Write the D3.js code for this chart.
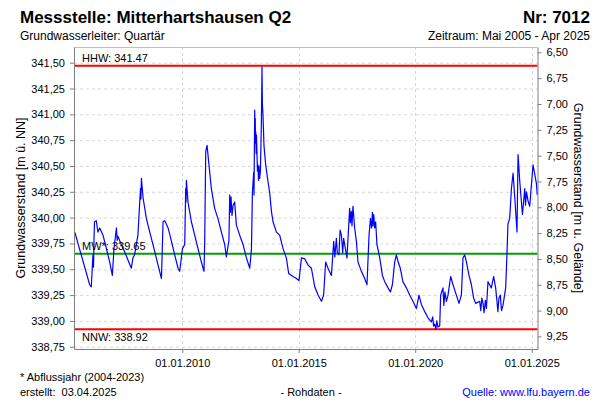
<!DOCTYPE html>
<html><head><meta charset="utf-8">
<script src="https://cdn.jsdelivr.net/npm/d3@7"></script>
<style>body{margin:0;background:#fff} svg{display:block;font-family:"Liberation Sans",Arial,sans-serif}</style>
</head><body><svg id="c" width="600" height="400"></svg>
<script>
// ---- data ----
const dates = [
"2005-05-22","2006-01-11","2006-02-05","2006-03-03","2006-03-12","2006-03-20","2006-03-28","2006-04-25","2006-05-20","2006-06-17",
"2006-08-08","2006-09-30","2006-11-21","2007-01-01","2007-01-27","2007-03-06","2007-03-18","2007-03-30","2007-05-21","2007-07-13",
"2007-09-03","2007-10-26","2007-11-20","2007-12-16","2008-02-06","2008-03-17","2008-03-24","2008-04-01","2008-04-27","2008-06-18",
"2008-08-10","2008-10-27","2008-12-18","2009-02-09","2009-03-06","2009-04-02","2009-05-24","2009-07-16","2009-09-05","2009-10-27",
"2009-11-22","2010-01-04","2010-02-09","2010-02-24","2010-03-01","2010-03-07","2010-04-01","2010-05-24","2010-07-15","2010-09-05",
"2010-10-28","2010-12-08","2010-12-19","2011-01-04","2011-01-25","2011-02-24","2011-04-02","2011-05-24","2011-07-15","2011-09-07",
"2011-10-28","2011-11-23","2012-01-03","2012-01-15","2012-01-25","2012-02-05","2012-02-20","2012-03-08","2012-04-02","2012-04-28",
"2012-06-19","2012-08-11","2012-10-03","2012-11-24","2012-12-21","2013-01-05","2013-01-25","2013-01-30","2013-02-04","2013-02-10",
"2013-02-14","2013-02-18","2013-02-22","2013-02-26","2013-03-05","2013-03-10","2013-03-18","2013-03-25","2013-04-02","2013-04-10",
"2013-04-18","2013-04-28","2013-05-10","2013-05-26","2013-06-04","2013-06-10","2013-06-20","2013-07-05","2013-08-01","2013-09-06",
"2013-10-03","2013-10-30","2013-11-24","2014-01-16","2014-03-08","2014-04-30","2014-06-21","2014-07-27","2014-10-03","2014-11-25",
"2015-01-05","2015-02-13","2015-04-06","2015-05-28","2015-07-19","2015-09-09","2015-10-31","2015-12-23","2016-01-26","2016-02-27",
"2016-04-04","2016-05-27","2016-07-02","2016-07-20","2016-08-13","2016-08-28","2016-09-23","2016-10-10","2016-10-31","2016-11-20",
"2016-12-05","2016-12-21","2017-01-26","2017-03-09","2017-03-20","2017-04-04","2017-04-15","2017-04-30","2017-05-27","2017-06-23",
"2017-07-18","2017-09-09","2017-10-31","2017-12-06","2018-01-07","2018-01-29","2018-02-15","2018-03-01","2018-03-10","2018-03-22",
"2018-04-05","2018-04-21","2018-05-11","2018-06-24","2018-08-05","2018-09-10","2018-11-01","2018-12-08","2019-01-08","2019-02-13",
"2019-03-11","2019-04-05","2019-05-12","2019-06-22","2019-08-15","2019-10-06","2019-11-27","2020-01-19","2020-02-29","2020-04-06",
"2020-05-29","2020-07-20","2020-09-10","2020-10-01","2020-10-15","2020-11-01","2020-11-20","2020-12-05","2020-12-23","2021-01-19",
"2021-02-03","2021-03-11","2021-03-25","2021-04-10","2021-05-04","2021-05-29","2021-07-10","2021-08-15","2021-10-07","2021-11-17",
"2021-12-25","2022-01-19","2022-02-15","2022-03-14","2022-04-23","2022-05-31","2022-07-05","2022-08-06","2022-10-08","2022-10-25",
"2022-11-10","2022-11-29","2022-12-15","2023-01-05","2023-01-21","2023-02-15","2023-04-08","2023-05-15","2023-06-15","2023-07-01",
"2023-07-20","2023-08-05","2023-08-27","2023-09-15","2023-10-08","2023-11-19","2023-12-09","2023-12-25","2024-01-21","2024-02-17",
"2024-03-14","2024-04-09","2024-05-15","2024-05-31","2024-06-27","2024-08-08","2024-09-13","2024-09-25","2024-10-10","2024-11-04",
"2024-11-30","2024-12-27","2025-01-21","2025-02-17","2025-03-15","2025-03-28"
];
const levels = [
339.86,339.35,339.33,339.64,339.52,339.80,339.96,339.97,339.86,339.90,
339.83,339.70,339.57,339.44,339.70,339.90,339.78,339.82,339.74,339.67,
339.59,339.51,339.61,339.64,339.83,340.28,340.18,340.38,340.19,339.99,
339.86,339.67,339.54,339.41,339.96,339.97,339.90,339.77,339.64,339.51,
339.48,339.70,339.74,340.28,340.15,340.36,340.15,339.96,339.83,339.70,
339.57,339.48,339.77,340.64,340.70,340.51,340.28,340.09,339.99,339.86,
339.74,339.62,339.78,340.22,340.05,340.20,340.02,340.12,340.15,339.93,
339.83,339.74,339.61,339.51,339.70,340.25,340.44,340.22,340.62,341.04,
340.72,340.96,340.78,340.83,340.62,340.80,340.61,340.45,340.51,340.36,
340.50,340.38,340.45,340.93,341.46,341.10,340.99,340.70,340.51,340.35,
340.24,340.06,339.96,339.86,339.83,339.70,339.61,339.46,339.43,339.41,
339.39,339.61,339.60,339.54,339.51,339.33,339.25,339.19,339.25,339.57,
339.51,339.44,339.77,339.62,339.80,339.66,339.64,339.88,339.83,339.66,
339.80,339.74,339.61,340.09,339.95,340.06,339.92,340.11,339.90,339.77,
339.57,339.48,339.41,339.35,339.83,339.99,339.90,340.05,339.92,340.03,
339.90,339.96,339.74,339.61,339.44,339.38,339.32,339.28,339.35,339.57,
339.64,339.58,339.51,339.38,339.32,339.25,339.19,339.12,339.25,339.16,
339.09,339.03,338.99,339.04,338.95,338.97,338.92,339.00,338.94,338.95,
339.25,339.32,339.15,339.28,339.19,339.25,339.43,339.35,339.25,339.17,
339.25,339.61,339.64,339.57,339.44,339.35,339.22,339.17,339.19,339.10,
339.22,339.17,339.08,339.20,339.12,339.38,339.32,339.43,339.32,339.22,
339.09,339.22,339.25,339.10,339.15,339.32,339.64,339.94,339.99,340.28,
340.43,340.20,339.86,340.61,340.35,340.03,340.28,340.12,340.25,340.16,
340.11,340.32,340.51,340.42,340.33,340.22
];
const refLabels = ["HHW", "MW*", "NNW"];
const refValues = [341.47, 339.65, 338.92];
const groundLevel = 348.10; // m ü. NN, links the two axes
const leftTicks = [338.75, 339.00, 339.25, 339.50, 339.75, 340.00, 340.25, 340.50, 340.75, 341.00, 341.25, 341.50];
const rightTicks = [6.50, 6.75, 7.00, 7.25, 7.50, 7.75, 8.00, 8.25, 8.50, 8.75, 9.00, 9.25];
const xTicks = ["2010-01-01", "2015-01-01", "2020-01-01", "2025-01-01"];
const xDomain = ["2005-05-10", "2025-04-01"];
const yDomain = [338.728, 341.652];

// ---- styles / layout ----
const refColor = {"HHW": "#ff0000", "MW*": "#00a000", "NNW": "#ff0000"};
const M = {left: 74, right: 537.5, top: 47, bottom: 349};
const parse = d3.utcParse("%Y-%m-%d");
const fmtC = v => d3.format(".2f")(v).replace(".", ",");

const svg = d3.select("#c");
const x = d3.scaleUtc().domain(xDomain.map(parse)).range([M.left, M.right]);
const y = d3.scaleLinear().domain(yDomain).range([M.bottom, M.top]);

// grid
const g = svg.append("g");
g.selectAll("line.hg").data(leftTicks).join("line")
  .attr("x1", M.left).attr("x2", M.right)
  .attr("y1", d => y(d) + 0.5).attr("y2", d => y(d) + 0.5)
  .attr("stroke", "#d8d8d8").attr("stroke-dasharray", "3,3");
g.selectAll("line.vg").data(xTicks.map(parse)).join("line")
  .attr("x1", d => Math.round(x(d)) + 0.5).attr("x2", d => Math.round(x(d)) + 0.5)
  .attr("y1", M.top).attr("y2", M.bottom)
  .attr("stroke", "#d8d8d8").attr("stroke-dasharray", "3,3");

// top border
svg.append("line").attr("x1", M.left).attr("x2", M.right).attr("y1", M.top + 0.5).attr("y2", M.top + 0.5)
  .attr("stroke", "#c0c0c0");

// reference lines
refLabels.forEach((k, i) => {
  svg.append("line").attr("x1", M.left).attr("x2", M.right)
    .attr("y1", y(refValues[i])).attr("y2", y(refValues[i]))
    .attr("stroke", refColor[k]).attr("stroke-width", 2);
});

// data line
const n = Math.min(dates.length, levels.length);
const pts = d3.range(n).map(i => [parse(dates[i]), levels[i]]);
svg.append("path").datum(pts)
  .attr("fill", "none").attr("stroke", "#0000ff").attr("stroke-width", 1.2)
  .attr("stroke-linejoin", "round")
  .attr("d", d3.line().x(d => x(d[0])).y(d => y(d[1])));

// reference labels
refLabels.forEach((k, i) => {
  const below = k === "NNW";
  svg.append("text").attr("x", 82)
    .attr("y", y(refValues[i]) + (below ? 12 : -4))
    .attr("font-size", 11).attr("fill", "#000")
    .text(k + ": " + refValues[i].toFixed(2));
});

// axes
const axisColor = "#808080";
function styleAxis(sel) {
  sel.selectAll(".domain").attr("stroke", axisColor);
  sel.selectAll(".tick line").attr("stroke", axisColor);
  sel.selectAll(".tick text").attr("fill", "#000").attr("font-size", 11)
    .attr("font-family", '"Liberation Sans",Arial,sans-serif');
}
const ax = svg.append("g").attr("transform", `translate(${M.left},0)`)
  .call(d3.axisLeft(y).tickValues(leftTicks).tickFormat(fmtC).tickSize(4).tickSizeOuter(0).tickPadding(5));
styleAxis(ax);

const yr = d3.scaleLinear().domain(yDomain.map(v => groundLevel - v)).range([M.bottom, M.top]);
const axr = svg.append("g").attr("transform", `translate(${M.right},0)`)
  .call(d3.axisRight(yr).tickValues(rightTicks).tickFormat(fmtC).tickSize(4).tickSizeOuter(0).tickPadding(5));
styleAxis(axr);

const axb = svg.append("g").attr("transform", `translate(0,${M.bottom})`)
  .call(d3.axisBottom(x).tickValues(xTicks.map(parse)).tickFormat(d3.utcFormat("%d.%m.%Y")).tickSize(4).tickSizeOuter(0).tickPadding(6));
styleAxis(axb);

// axis titles
svg.append("text").attr("transform", `translate(25,${(M.top + M.bottom) / 2}) rotate(-90)`)
  .attr("text-anchor", "middle").attr("font-size", 12.5).text("Grundwasserstand [m ü. NN]");
svg.append("text").attr("transform", `translate(574,${(M.top + M.bottom) / 2}) rotate(90)`)
  .attr("text-anchor", "middle").attr("font-size", 12.5).text("Grundwasserstand [m u. Gelände]");

// titles
svg.append("text").attr("x", 20).attr("y", 23).attr("font-size", 17).attr("font-weight", "bold")
  .text("Messstelle: Mitterhartshausen Q2");
svg.append("text").attr("x", 590).attr("y", 23).attr("font-size", 17).attr("font-weight", "bold")
  .attr("text-anchor", "end").text("Nr: 7012");
svg.append("text").attr("x", 20).attr("y", 40).attr("font-size", 12).text("Grundwasserleiter: Quartär");
svg.append("text").attr("x", 590).attr("y", 40).attr("font-size", 12).attr("text-anchor", "end")
  .text("Zeitraum: Mai 2005 - Apr 2025");

// footer
svg.append("text").attr("x", 20).attr("y", 381).attr("font-size", 11).text("* Abflussjahr (2004-2023)");
svg.append("text").attr("x", 20).attr("y", 396).attr("font-size", 11).attr("xml:space", "preserve")
  .text("erstellt:  03.04.2025");
svg.append("text").attr("x", 311).attr("y", 396).attr("font-size", 11).attr("text-anchor", "middle")
  .text("- Rohdaten -");
svg.append("text").attr("x", 590).attr("y", 396).attr("font-size", 11).attr("text-anchor", "end")
  .attr("fill", "#0000ff").text("Quelle: www.lfu.bayern.de");
</script>
</body></html>
